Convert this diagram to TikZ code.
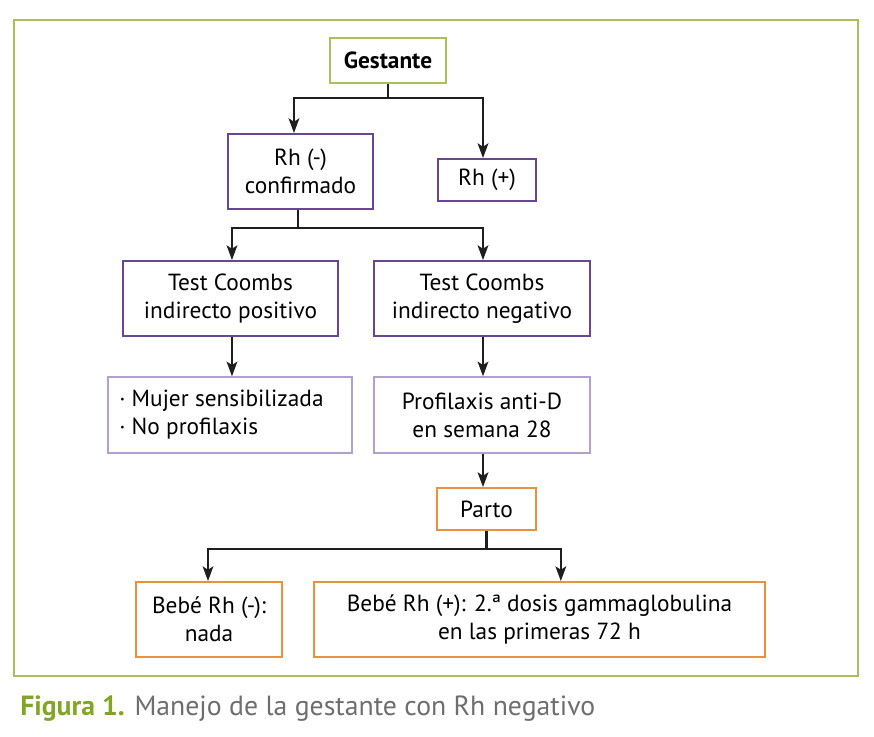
\documentclass[tikz,border=0pt]{standalone}
\usepackage{fontspec}
\setmainfont{PT Sans}
\usetikzlibrary{arrows.meta}
\definecolor{framegreen}{RGB}{170,192,90}
\definecolor{capgreen}{RGB}{130,165,40}
\definecolor{boxpurple}{RGB}{105,70,145}
\definecolor{lightpurple}{RGB}{180,160,205}
\definecolor{boxorange}{RGB}{232,145,65}
\definecolor{capgray}{RGB}{110,110,110}
\definecolor{linegray}{RGB}{30,30,30}

\begin{document}
\begin{tikzpicture}[
    x=0.75pt, y=-0.75pt,
    box/.style={draw, line width=1.4pt, align=center, inner sep=0pt,
      font=\fontsize{17.5}{21}\selectfont},
    greenbox/.style={box, draw=framegreen, font=\fontsize{17.5}{21}\selectfont\bfseries},
    purplebox/.style={box, draw=boxpurple},
    lightbox/.style={box, draw=lightpurple, line width=1pt},
    orangebox/.style={box, draw=boxorange},
    link/.style={draw=linegray, line width=1.6pt},
    arr/.style={link, -{Stealth[length=11pt, width=8pt, inset=2.5pt]}}
    ]

    \useasboundingbox (0,0) rectangle (874,736);
    \draw[framegreen, line width=1.1pt] (14,20) rectangle (858,676);

    % boxes
    \node[greenbox, minimum width=87pt, minimum height=33.75pt] (gest) at (388,60.5) {Gestante};
    \node[purplebox, minimum width=108.75pt, minimum height=56.25pt] (rhneg) at (300.5,171.5) {Rh (-)\\confirmado};
    \node[purplebox, minimum width=73.5pt, minimum height=31.5pt] (rhpos) at (487,180) {Rh (+)};
    \node[purplebox, minimum width=161.25pt, minimum height=56.25pt] (cpos) at (230.5,298.5) {Test Coombs\\indirecto positivo};
    \node[purplebox, minimum width=162pt, minimum height=56.25pt] (cneg) at (482,298.5) {Test Coombs\\indirecto negativo};
    \node[lightbox, minimum width=183pt, minimum height=57pt] (mujer) at (230,415) {};
    \node[align=left, font=\fontsize{17.5}{21}\selectfont, anchor=west, inner sep=0pt] (mujertxt) at (119,415) {· Mujer sensibilizada\\· No profilaxis};
    \node[lightbox, minimum width=162pt, minimum height=57pt] (prof) at (482,415) {Profilaxis anti-D\\en semana 28};
    \node[orangebox, minimum width=74.25pt, minimum height=31.5pt] (parto) at (486.5,509) {Parto};
    \node[orangebox, minimum width=109.5pt, minimum height=56.25pt] (bneg) at (209,619.5) {Bebé Rh (-):\\nada};
    \node[orangebox, minimum width=338.25pt, minimum height=56.25pt] (bpos) at (539.5,619.5) {Bebé Rh (+): 2.ª dosis gammaglobulina\\en las primeras 72 h};

    % connectors
    \coordinate (j1) at (388,98);
    \coordinate (j2) at (298,228);
    \coordinate (j3) at (486.5,549);
    \draw[link] (gest) -- (j1);
    \draw[arr] (j1) -| ([xshift=-4.9pt]rhneg.north);
    \draw[arr] (j1) -| ([xshift=-3pt]rhpos.north);
    \draw[link] (rhneg.south -| j2) -- (j2);
    \draw[arr] (j2) -| ([xshift=1.1pt]cpos.north);
    \draw[arr] (j2) -| ([xshift=0.75pt]cneg.north);
    \draw[arr] ([xshift=1.1pt]cpos.south) -- ([xshift=1.1pt]cpos.south |- mujer.north);
    \draw[arr] ([xshift=0.75pt]cneg.south) -- ([xshift=0.75pt]cneg.south |- prof.north);
    \draw[arr] ([xshift=0.75pt]prof.south) -- ([xshift=0.75pt]prof.south |- parto.north);
    \draw[link] (parto) -- (j3);
    \draw[arr] (j3) -| ([xshift=-0.75pt]bneg.north);
    \draw[arr] (j3) -| ([xshift=16pt]bpos.north);

    \node[anchor=west, font=\fontsize{20.8}{24}\selectfont, text=capgray, inner sep=0pt] (caption) at (20,709)
      {\textcolor{capgreen}{\bfseries Figura 1.} Manejo de la gestante con Rh negativo};

\end{tikzpicture}
\end{document}
